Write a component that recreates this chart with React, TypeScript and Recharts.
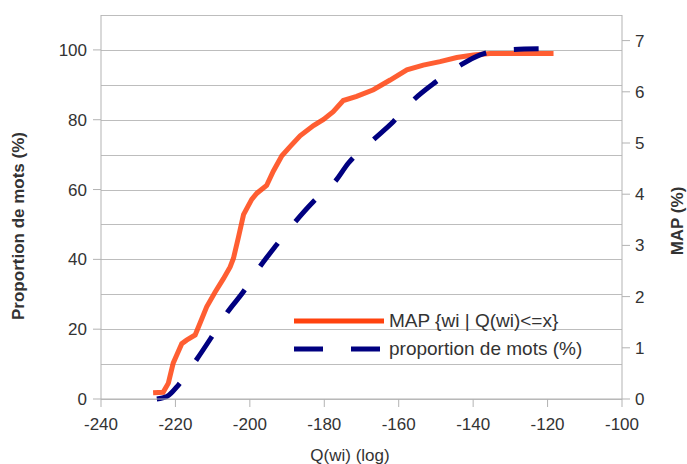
import React from 'react';
import { LineChart, Line, XAxis, YAxis, CartesianGrid, Label } from 'recharts';

// MAP {wi | Q(wi)<=x}  (right axis, %)
const mapX = [-226, -223.3, -221.9, -220.6, -219.7, -218.3, -217, -214.7, -213.4, -211.6, -209.4, -207.1, -205.3, -204.4, -203.1, -201.7, -199.5, -198.1, -195.5, -193.7, -191.4, -189.2, -186.5, -182.9, -180.2, -177.6, -174.9, -171.3, -166.8, -162.3, -157.8, -153.4, -148.9, -144.4, -139.9, -135.4, -118.4];
const mapY = [0.12, 0.13, 0.31, 0.7, 0.85, 1.08, 1.15, 1.25, 1.48, 1.8, 2.08, 2.35, 2.58, 2.75, 3.15, 3.6, 3.9, 4.02, 4.17, 4.45, 4.75, 4.93, 5.14, 5.34, 5.46, 5.61, 5.83, 5.91, 6.04, 6.23, 6.43, 6.52, 6.59, 6.67, 6.72, 6.75, 6.75];

// proportion de mots (%)  (left axis)
const propX = [-225, -222.3, -219.2, -214.7, -210.5, -206.2, -201.7, -197.3, -192.8, -187.8, -182.9, -177.1, -173.5, -166.8, -161.4, -156, -150.2, -143.9, -138.1, -130, -122.4];
const propY = [0, 0.7, 4, 10.7, 17.4, 24.6, 30.8, 37.9, 44.2, 50.8, 56.6, 62.3, 67.6, 74.3, 79.5, 85.7, 90.7, 95.3, 98.6, 100.1, 100.3];

const xTicks = [-240, -220, -200, -180, -160, -140, -120, -100];
const leftTicks = [0, 20, 40, 60, 80, 100];
const gridTicks = [0, 10, 20, 30, 40, 50, 60, 70, 80, 90, 100, 110];
const rightTicks = [0, 1, 2, 3, 4, 5, 6, 7];

const seriesNames = ['MAP {wi | Q(wi)<=x}', 'proportion de mots (%)'];

// one table for the chart, both series merged on x
const chartData = [
    ...mapX.map((x, i) => ({ x, map: mapY[i] as number | undefined, prop: undefined as number | undefined })),
    ...propX.map((x, i) => ({ x, map: undefined as number | undefined, prop: propY[i] as number | undefined })),
].sort((a, b) => a.x - b.x);

const FONT = '"Liberation Sans", Arial, sans-serif';
const TEXT = '#333333';
const AXIS = '#b3b3b3';
const LEFT_MAX = 110;

// grid every 10 on the left scale (0..LEFT_MAX over the plot height), snapped to whole pixels
const gridCoords = (props: any) => {
    const { offset } = props;
    return gridTicks.map((v) => Math.round(offset.top + offset.height * (1 - v / LEFT_MAX)) + 0.5);
};

function ChartLegend() {
    return (
        <div style={{ position: 'absolute', left: 294, top: 307, fontFamily: FONT, fontSize: 19, color: TEXT, lineHeight: '28px' }}>
            <div style={{ display: 'flex', alignItems: 'center', height: 28 }}>
                <svg width={95} height={10}>
                    <line x1={0} y1={5} x2={90} y2={5} stroke="#ff420e" strokeWidth={5} />
                </svg>
                <span>{seriesNames[0]}</span>
            </div>
            <div style={{ display: 'flex', alignItems: 'center', height: 28 }}>
                <svg width={95} height={10}>
                    <line x1={0} y1={5} x2={86} y2={5} stroke="#000080" strokeWidth={5} strokeDasharray="29 28" />
                </svg>
                <span>{seriesNames[1]}</span>
            </div>
        </div>
    );
}

export default function App() {
    return (
        <div style={{ position: 'absolute', left: 0, top: 0, width: 687, height: 464, background: '#fff' }}>
            <LineChart width={687} height={464} data={chartData} margin={{ top: 15, right: 0, left: 0, bottom: 0 }}>
                <CartesianGrid
                    vertical={false}
                    horizontalCoordinatesGenerator={gridCoords}
                    stroke="#bdbdbd"
                    strokeWidth={1}
                    strokeOpacity={1}
                />
                <XAxis
                    dataKey="x"
                    type="number"
                    domain={[-240, -100]}
                    ticks={xTicks}
                    height={65}
                    tick={{ fontSize: 17, fill: TEXT, fontFamily: FONT }}
                    tickSize={8}
                    tickMargin={11}
                    tickLine={{ stroke: AXIS }}
                    axisLine={{ stroke: AXIS }}
                >
                    <Label
                        content={() => (
                            <text x={350} y={461} textAnchor="middle" fontSize={17} fill={TEXT} fontFamily={FONT}>
                                Q(wi) (log)
                            </text>
                        )}
                    />
                </XAxis>
                <YAxis
                    domain={[0, LEFT_MAX]}
                    ticks={leftTicks}
                    width={101}
                    tick={{ fontSize: 17, fill: TEXT, fontFamily: FONT }}
                    tickSize={8}
                    tickMargin={6}
                    tickLine={{ stroke: AXIS }}
                    axisLine={{ stroke: AXIS }}
                >
                    <Label
                        content={() => (
                            <text x={24} y={226} transform="rotate(-90 24 226)" textAnchor="middle" fontSize={17} fontWeight="bold" fill={TEXT} fontFamily={FONT}>
                                Proportion de mots (%)
                            </text>
                        )}
                    />
                </YAxis>
                <YAxis
                    yAxisId="right"
                    orientation="right"
                    domain={[0, 7.5]}
                    ticks={rightTicks}
                    width={65}
                    tick={{ fontSize: 17, fill: TEXT, fontFamily: FONT }}
                    tickSize={8}
                    tickMargin={5}
                    tickLine={{ stroke: AXIS }}
                    axisLine={{ stroke: AXIS }}
                >
                    <Label
                        content={() => (
                            <text x={683} y={221} transform="rotate(-90 683 221)" textAnchor="middle" fontSize={17} fontWeight="bold" fill={TEXT} fontFamily={FONT}>
                                MAP (%)
                            </text>
                        )}
                    />
                </YAxis>
                <Line
                    yAxisId="right"
                    dataKey="map"
                    name={seriesNames[0]}
                    type="linear"
                    connectNulls
                    stroke="#ff420e"
                    strokeWidth={5}
                    strokeOpacity={0.85}
                    dot={false}
                    activeDot={false}
                    isAnimationActive={false}
                />
                <Line
                    dataKey="prop"
                    name={seriesNames[1]}
                    type="monotone"
                    connectNulls
                    stroke="#000080"
                    strokeWidth={5}
                    strokeDasharray="29 28"
                    dot={false}
                    activeDot={false}
                    isAnimationActive={false}
                />
            </LineChart>
            <ChartLegend />
        </div>
    );
}
